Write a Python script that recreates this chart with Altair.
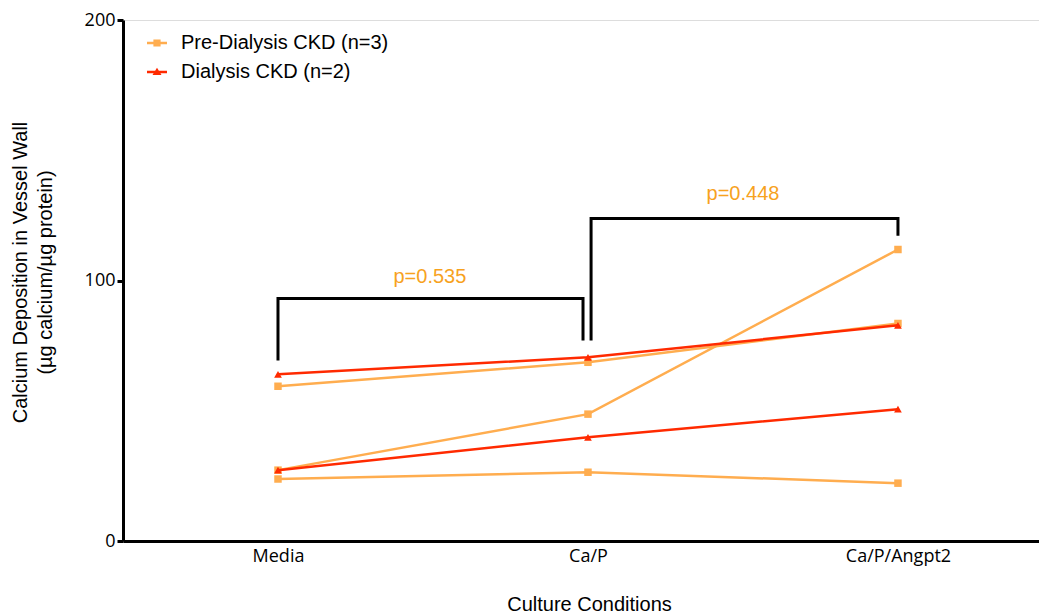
import altair as alt
import pandas as pd

# ---- data ----
conditions = ["Media", "Ca/P", "Ca/P/Angpt2"]
groups = ["Pre-Dialysis CKD (n=3)", "Dialysis CKD (n=2)"]

pre_1 = [59.4, 68.6, 83.5]
pre_2 = [27.2, 48.7, 111.9]
pre_3 = [23.8, 26.4, 22.2]
dia_1 = [64.0, 70.5, 82.8]
dia_2 = [27.2, 39.8, 50.6]

bracket1_x = [0, 0, 0.984, 0.984]
bracket1_y = [69.3, 93.1, 93.1, 77.0]
bracket2_x = [1.01, 1.01, 2, 2]
bracket2_y = [77.0, 123.8, 123.8, 117.2]

p_labels = ["p=0.535", "p=0.448"]
p_x = [0.49, 1.5]
p_y = [101.5, 133.3]

colors = ["#FFAD4F", "#FF2A00"]

# ---- tables ----
rows = []
for sid, (grp, vals) in enumerate([(groups[0], pre_1), (groups[0], pre_2), (groups[0], pre_3),
                                   (groups[1], dia_1), (groups[1], dia_2)]):
    for i, v in enumerate(vals):
        rows.append({"subject": f"s{sid}", "group": grp, "x": i, "y": v})
df = pd.DataFrame(rows)
pre_df = df[df.group == groups[0]]
dia_df = df[df.group == groups[1]]

br_rows = []
for bid, (bx, by) in enumerate([(bracket1_x, bracket1_y), (bracket2_x, bracket2_y)]):
    for k, (xv, yv) in enumerate(zip(bx, by)):
        br_rows.append({"b": f"b{bid}", "o": k, "x": xv, "y": yv})
br_df = pd.DataFrame(br_rows)

txt_df = pd.DataFrame({"label": p_labels, "x": p_x, "y": p_y})

label_expr = "[" + ",".join(f"'{c}'" for c in conditions) + "][datum.value]"

xscale = alt.Scale(domain=[-0.5, 2.455], nice=False, zero=False)
yscale = alt.Scale(domain=[0, 200], nice=False)

x_enc = alt.X("x:Q", scale=xscale,
              axis=alt.Axis(values=[0, 1, 2], labelExpr=label_expr, ticks=False, grid=False,
                            title="Culture Conditions", titleX=466, titleY=63,
                            titleBaseline="middle", labelPadding=6,
                            labelFont="Open Sans", labelFontSize=18, labelColor="#000000",
                            titleFont="Liberation Sans", titleFontSize=20, titleFontWeight="normal",
                            titleColor="#000000", domainColor="#000000", domainWidth=3))
y_enc = alt.Y("y:Q", scale=yscale,
              axis=alt.Axis(values=[0, 100, 200], grid=False, tickSize=6, tickWidth=3,
                            tickColor="#000000", domainColor="#000000", domainWidth=3,
                            labelPadding=2, labelFont="Open Sans", labelFontSize=18,
                            labelColor="#000000",
                            title=["Calcium Deposition in Vessel Wall", "(\u00b5g calcium/\u00b5g protein)"],
                            titleFont="Liberation Sans", titleFontSize=20, titleFontWeight="normal",
                            titleColor="#000000", titleAngle=-90, titleX=-103, titleY=252,
                            titleAlign="center", titleBaseline="middle", titleLineHeight=25))

sq_path = "M-1,-0.12H1V0.12H-1Z M-0.36,-0.36H0.36V0.36H-0.36Z"
tri_path = "M-1,-0.12H1V0.12H-1Z M0,-0.42L0.45,0.3L-0.45,0.3Z"
sym_expr = f"datum.value == '{groups[1]}' ? '{tri_path}' : '{sq_path}'"

color_enc = alt.Color("group:N", scale=alt.Scale(domain=groups, range=colors),
                      legend=alt.Legend(title=None, orient="none", legendX=24, legendY=13,
                                        symbolType=alt.ExprRef(expr=sym_expr), symbolSize=400,
                                        symbolStrokeWidth=0, symbolOpacity=1,
                                        labelFont="Liberation Sans", labelFontSize=20,
                                        labelColor="#000000", labelOffset=14, rowPadding=9,
                                        padding=0, labelLimit=400))

brackets = alt.Chart(br_df).mark_line(color="#000000", strokeWidth=3, strokeCap="butt",
                                      strokeJoin="miter").encode(
    x=x_enc, y=y_enc, detail="b:N", order="o:Q")

pre_lines = alt.Chart(pre_df).mark_line(strokeWidth=2.5).encode(
    x=x_enc, y=y_enc, color=color_enc, detail="subject:N")
pre_pts = alt.Chart(pre_df).mark_point(shape="square", filled=True, size=56, opacity=1).encode(
    x=x_enc, y=y_enc, color=color_enc)
dia_lines = alt.Chart(dia_df).mark_line(strokeWidth=2.5).encode(
    x=x_enc, y=y_enc, color=color_enc, detail="subject:N")
dia_pts = alt.Chart(dia_df).mark_point(shape="triangle-up", filled=True, size=60, opacity=1).encode(
    x=x_enc, y=y_enc, color=color_enc)

texts = alt.Chart(txt_df).mark_text(font="Liberation Sans", fontSize=20, color="#F7A21E",
                                    baseline="middle", align="center").encode(
    x=x_enc, y=y_enc, text="label:N")

chart = alt.layer(brackets, pre_lines, pre_pts, dia_lines, dia_pts, texts).properties(
    width=916, height=521,
    autosize=alt.AutoSizeParams(type="none"),
    padding={"left": 115, "top": 12, "right": 0, "bottom": 74},
).configure_view(stroke=None).configure(background="white")

chart.save("out.html", embed_options={"renderer": "svg", "actions": False})
